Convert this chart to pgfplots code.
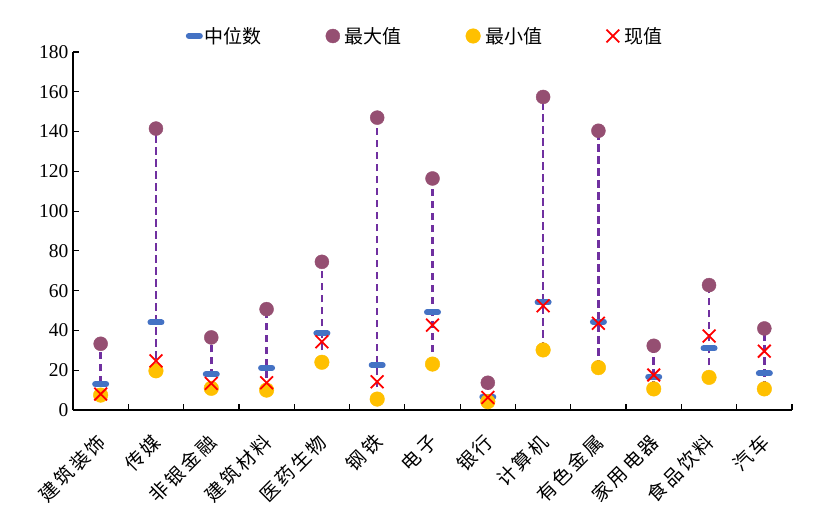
\documentclass[border=0pt]{standalone}
\usepackage{fontspec}
\setmainfont{Liberation Serif}
\newfontfamily\cjk{Noto Sans CJK SC}
\newfontfamily\cjkx[LetterSpace=15]{Noto Sans CJK SC}
\usepackage{pgfplots}
\usepackage{pgfplotstable}
\pgfplotsset{compat=1.18}
\definecolor{medc}{HTML}{4472C4}
\definecolor{maxc}{HTML}{954F72}
\definecolor{minc}{HTML}{FFC000}
\definecolor{linec}{HTML}{7030A0}
\pgfplotstableread{
x max med min cur
0 33.3 13.0 7.5 8.0
1 141.5 44.0 19.7 24.7
2 36.5 17.9 10.9 13.4
3 50.7 21.2 10.0 13.7
4 74.5 38.5 24.0 34.3
5 147.0 22.6 5.5 14.2
6 116.4 49.1 23.1 42.7
7 13.7 6.7 4.2 6.3
8 157.4 54.1 30.2 52.4
9 140.4 44.4 21.3 43.6
10 32.3 16.7 10.6 17.6
11 62.8 31.0 16.4 37.2
12 41.0 18.4 10.6 29.6
}\data
\begin{document}
\begin{tikzpicture}
\useasboundingbox (-73pt,-112pt) rectangle (748pt,358pt+52pt);
\begin{axis}[
  at={(0pt,0pt)}, anchor=south west,
  scale only axis, width=719pt, height=358pt,
  xmin=-0.5, xmax=12.5, ymin=0, ymax=180,
  ytick={0,20,...,180},
  xtick={-0.5,0.5,...,12.5},
  x tick label as interval,
  xticklabels={建筑装饰,传媒,非银金融,建筑材料,医药生物,钢铁,电子,银行,计算机,有色金属,家用电器,食品饮料,汽车},
  x tick label style={xshift=-5pt, yshift=-22pt, rotate=45, anchor=north east, font=\cjkx\fontsize{19pt}{22pt}\selectfont, inner sep=0pt},
  y tick label style={font=\fontsize{19.5pt}{22pt}\selectfont, xshift=-1pt},
  /pgf/number format/assume math mode=true,
  axis x line*=bottom, axis y line*=left,
  axis line style={line width=1.5pt, black},
  tick align=inside,
  major tick length=6pt,
  tick style={line width=1.2pt, black},
  unbounded coords=jump,
  legend columns=4,
  legend style={at={(0.5,1)}, anchor=south, xshift=-6pt, yshift=3pt, draw=none, fill=none,
    font=\cjk\fontsize{19pt}{22pt}\selectfont,
    /tikz/every odd column/.append style={column sep=3pt},
    /tikz/every even column/.append style={column sep=62pt}},
  legend cell align=left,
]
\addplot[forget plot, linec, line width=2.6pt, dash pattern=on 7.5pt off 4.5pt] coordinates {
(0,7.5) (0,33.3) (0,nan)
(1,19.7) (1,141.5) (1,nan)
(2,10.9) (2,36.5) (2,nan)
(3,10.0) (3,50.7) (3,nan)
(4,24.0) (4,74.5) (4,nan)
(5,5.5) (5,147.0) (5,nan)
(6,23.1) (6,116.4) (6,nan)
(7,4.2) (7,13.7) (7,nan)
(8,30.2) (8,157.4) (8,nan)
(9,21.3) (9,140.4) (9,nan)
(10,10.6) (10,32.3) (10,nan)
(11,16.4) (11,62.8) (11,nan)
(12,10.6) (12,41.0)
};
\addplot[only marks, mark=-, mark size=5.5pt, line width=6pt, mark options={line width=6pt, draw=medc, line cap=round}] table[x=x, y=med] {\data};
\addlegendentry{中位数}
\addplot[only marks, mark=*, mark size=7pt, mark options={draw=maxc, fill=maxc}] table[x=x, y=max] {\data};
\addlegendentry{最大值}
\addplot[only marks, mark=*, mark size=7.3pt, mark options={draw=minc, fill=minc}] table[x=x, y=min] {\data};
\addlegendentry{最小值}
\addplot[only marks, mark=x, mark size=9pt, mark options={draw=red, line width=1.8pt}] table[x=x, y=cur] {\data};
\addlegendentry{现值}
\end{axis}
\end{tikzpicture}
\end{document}
